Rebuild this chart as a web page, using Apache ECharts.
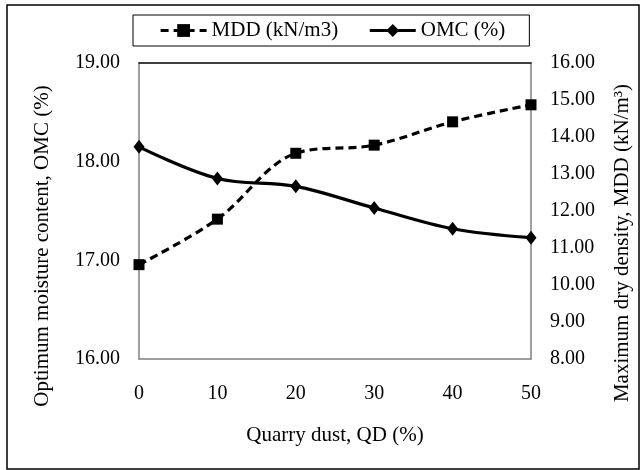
<!DOCTYPE html>
<html lang="en">
<head>
    <meta charset="UTF-8">
    <title>MDD and OMC vs quarry dust</title>
    <script src="https://cdn.jsdelivr.net/npm/echarts@6/dist/echarts.min.js"></script>
    <style>
        html, body { margin: 0; padding: 0; background: #fff; }
        #chart { width: 640px; height: 470px; }
    </style>
</head>
<body>
    <div id="chart"></div>

    <script>
        // data
        const quarryDust = ['0', '10', '20', '30', '40', '50'];
        const mddValues = [10.55, 11.78, 13.56, 13.78, 14.41, 14.87];
        const omcValues = [18.15, 17.83, 17.75, 17.53, 17.32, 17.23];

        const serif = 'Liberation Serif';
        const chart = echarts.init(document.getElementById('chart'));

        const option = {
            backgroundColor: '#fff',
            animation: false,
            textStyle: { fontFamily: serif, color: '#000' },
            grid: { left: 139, right: 109, top: 63, bottom: 111 },
            legend: {
                left: 133,
                top: 15,
                padding: [5, 24, 5, 26],
                itemGap: 30,
                itemWidth: 46,
                itemHeight: 16,
                borderColor: '#000',
                borderWidth: 1,
                lineStyle: { width: 3.2 },
                textStyle: { fontFamily: serif, fontSize: 21, color: '#000' },
                data: ['MDD (kN/m3)', 'OMC (%)']
            },
            xAxis: [
                {
                    type: 'category',
                    data: quarryDust,
                    boundaryGap: false,
                    name: 'Quarry dust, QD (%)',
                    nameLocation: 'middle',
                    nameGap: 66,
                    nameTextStyle: { fontFamily: serif, fontSize: 21, color: '#000' },
                    axisLine: { lineStyle: { color: '#808080', width: 1.5 } },
                    axisTick: { show: false },
                    axisLabel: { fontFamily: serif, fontSize: 20, color: '#000', margin: 25 }
                },
                {
                    // top edge of the plot frame
                    type: 'category',
                    data: quarryDust,
                    boundaryGap: false,
                    position: 'top',
                    axisLine: { lineStyle: { color: '#000', width: 1.5 } },
                    axisTick: { show: false },
                    axisLabel: { show: false }
                }
            ],
            yAxis: [
                {
                    type: 'value',
                    min: 16,
                    max: 19,
                    interval: 1,
                    axisLine: { show: true, lineStyle: { color: '#808080', width: 1.5 } },
                    axisTick: { show: false },
                    splitLine: { show: false },
                    axisLabel: {
                        fontFamily: serif, fontSize: 20, color: '#000', margin: 19,
                        formatter: v => v.toFixed(2)
                    }
                },
                {
                    type: 'value',
                    min: 8,
                    max: 16,
                    interval: 1,
                    position: 'right',
                    axisLine: { show: true, lineStyle: { color: '#808080', width: 1.5 } },
                    axisTick: { show: false },
                    splitLine: { show: false },
                    axisLabel: {
                        fontFamily: serif, fontSize: 20, color: '#000', margin: 19,
                        formatter: v => v.toFixed(2)
                    }
                }
            ],
            graphic: [
                {
                    type: 'rect',
                    shape: { x: 7, y: 5, width: 632, height: 464 },
                    style: { fill: 'none', stroke: '#000', lineWidth: 1.5 },
                    silent: true
                },
                {
                    type: 'text',
                    x: 42,
                    y: 246,
                    rotation: Math.PI / 2,
                    style: {
                        text: 'Optimum moisture content, OMC (%)',
                        font: '21px "Liberation Serif"',
                        fill: '#000',
                        align: 'center',
                        verticalAlign: 'middle'
                    }
                },
                {
                    type: 'text',
                    x: 622,
                    y: 243,
                    rotation: Math.PI / 2,
                    style: {
                        text: 'Maximum dry density, MDD (kN/m³)',
                        font: '21px "Liberation Serif"',
                        fill: '#000',
                        align: 'center',
                        verticalAlign: 'middle'
                    }
                }
            ],
            series: [
                {
                    name: 'MDD (kN/m3)',
                    type: 'line',
                    yAxisIndex: 1,
                    data: mddValues,
                    smooth: 0.35,
                    symbol: 'rect',
                    symbolSize: 11,
                    itemStyle: { color: '#000' },
                    lineStyle: { color: '#000', width: 3.2, type: [8, 5] }
                },
                {
                    name: 'OMC (%)',
                    type: 'line',
                    yAxisIndex: 0,
                    data: omcValues,
                    smooth: 0.35,
                    symbol: 'diamond',
                    symbolSize: [11, 14],
                    itemStyle: { color: '#000' },
                    lineStyle: { color: '#000', width: 3.2 }
                }
            ]
        };

        chart.setOption(option);
    </script>
</body>
</html>
